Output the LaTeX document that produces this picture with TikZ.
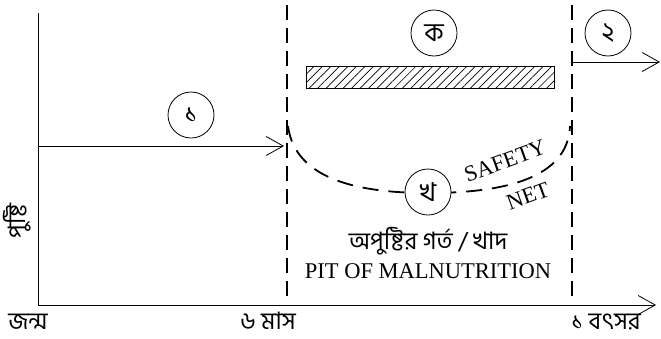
\documentclass[tikz,border=0pt]{standalone}
\usepackage{fontspec}
\setmainfont{Liberation Serif}
\newfontfamily\bnfont[Script=Bengali]{Hind Siliguri}
\usetikzlibrary{arrows.meta,patterns.meta}

\tikzset{
  axisline/.style={line width=0.8pt},
  openhead/.style={-{Straight Barb[length=17pt,width=19pt,line width=0.8pt]}},
  gapline/.style={line width=1.7pt,dash pattern=on 15pt off 8pt},
  netline/.style={line width=1.8pt,dash pattern=on 16pt off 10pt},
  markcircle/.style={circle,draw,line width=0.8pt,minimum size=46pt,inner sep=0pt,fill=white,font=\bnfont\fontsize{26}{28}\selectfont},
  bnlabel/.style={inner sep=0pt,font=\bnfont\fontsize{24}{26}\selectfont},
  enlabel/.style={inner sep=0pt,font=\fontsize{22.5}{26}\selectfont},
  hatchbar/.style={draw,line width=0.8pt,pattern={Lines[angle=45,distance=6pt,line width=0.7pt]}},
}

\begin{document}
\begin{tikzpicture}[x=1pt,y=-1pt]
\path[use as bounding box] (0,0) rectangle (661,338);
\path[fill=white,draw=none] (0,0) rectangle (661,338);
% axes
\coordinate (origin) at (38,305);
\coordinate (ytop) at (38,13);
\coordinate (xend) at (656,305);
\draw[axisline] (ytop) -- (origin);
\draw[axisline,openhead] (origin) -- (xend);
% six months and one year
\coordinate (sixtop) at (287,5);
\coordinate (sixbot) at (287,298);
\coordinate (yeartop) at (572,5);
\coordinate (yearbot) at (572,298);
\draw[gapline] (sixtop) -- (sixbot);
\draw[gapline] (yeartop) -- (yearbot);
% phase 1
\coordinate (onestart) at (38,146);
\coordinate (oneend) at (284,146);
\draw[axisline,openhead] (onestart) -- (oneend);
\node[markcircle] (one) at (191,115) {১};
% phase 2
\coordinate (twostart) at (572,62);
\coordinate (twoend) at (660,62);
\draw[axisline,openhead] (twostart) -- (twoend);
\node[markcircle] (two) at (608,33) {২};
% bar
\path[hatchbar] (306,66) rectangle (554,88);
\node[markcircle] (ka) at (434,33) {ক};
% safety net
\draw[netline] (288,126) .. controls (295,180) and (360,193) .. (428,193)
  .. controls (500,193) and (568,180) .. (570,126);
\node[markcircle] (kha) at (428,192) {খ};
\node[enlabel,rotate=20] (safety) at (505,161) {SAFETY};
\node[enlabel,rotate=20] (net) at (528,196) {NET};
% pit
\node[bnlabel] (pitbn) at (428,241) {অপুষ্টির গর্ত / খাদ};
\node[enlabel] (piten) at (428,271) {PIT OF MALNUTRITION};
% labels
\node[bnlabel,rotate=90] (growth) at (17,221) {পুষ্টি};
\node[bnlabel,anchor=base] (birth) at (28,329) {জন্ম};
\node[bnlabel,anchor=base] (sixmonth) at (268,329) {৬ মাস};
\node[bnlabel,anchor=base] (oneyear) at (606,329) {১ বৎসর};
\end{tikzpicture}
\end{document}
